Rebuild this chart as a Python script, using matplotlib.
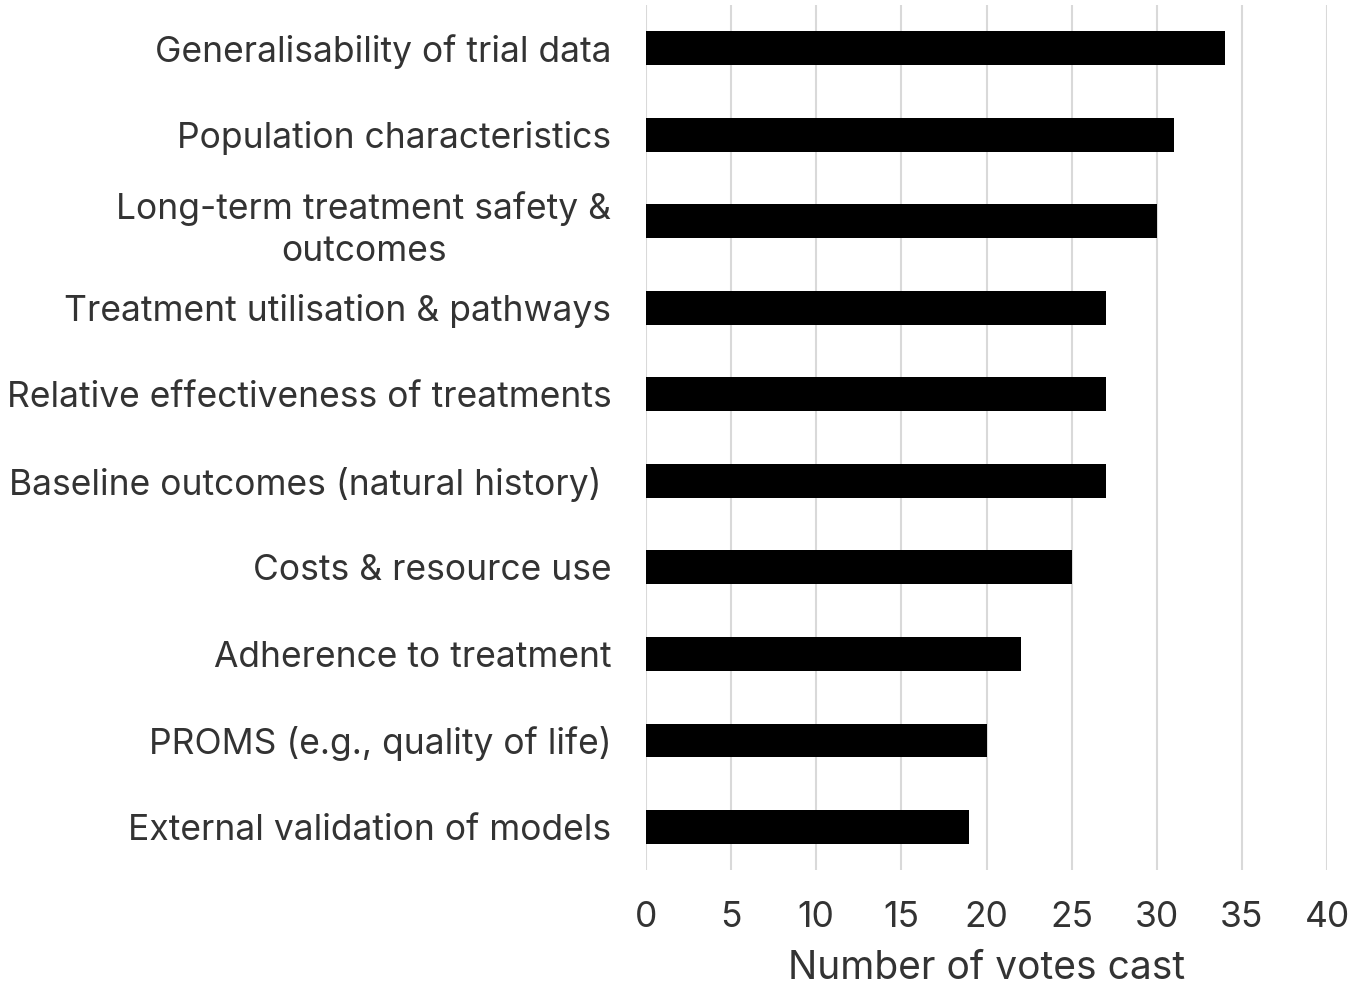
import matplotlib.pyplot as plt
import numpy as np

plt.rcParams['font.family'] = ['Inter', 'DejaVu Sans']

categories = [
    'Generalisability of trial data',
    'Population characteristics',
    'Long-term treatment safety &\noutcomes',
    'Treatment utilisation & pathways',
    'Relative effectiveness of treatments',
    'Baseline outcomes (natural history) ',
    'Costs & resource use',
    'Adherence to treatment',
    'PROMS (e.g., quality of life)',
    'External validation of models',
]
votes = [34, 31, 30, 27, 27, 27, 25, 22, 20, 19]
xticks = [0, 5, 10, 15, 20, 25, 30, 35, 40]

text_color = '#333333'
grid_color = '#d9d9d9'

fig = plt.figure(figsize=(13.5, 9.9), dpi=100)
ax = fig.add_axes([0.4785, 0.121, 0.5045, 0.874])

y = np.arange(len(categories))
ax.barh(y, votes, height=0.39, color='black', zorder=3)

ax.set_ylim(len(categories) - 0.5, -0.5)
ax.set_xlim(0, 40)
ax.set_xticks(xticks)
ax.set_yticks(y)
ax.set_yticklabels(categories)
for lab in ax.get_yticklabels():
    lab.set_multialignment('center')
    lab.set_linespacing(1.35)

ax.tick_params(axis='y', length=0, pad=25, labelsize=25.5, labelcolor=text_color)
ax.tick_params(axis='x', length=0, pad=22, labelsize=25.5, labelcolor=text_color)
ax.xaxis.grid(True, color=grid_color, linewidth=1.5, zorder=0)
for s in ax.spines.values():
    s.set_visible(False)

ax.set_xlabel('Number of votes cast', fontsize=28, color=text_color, labelpad=12)

fig.savefig('out.png', dpi=100)
